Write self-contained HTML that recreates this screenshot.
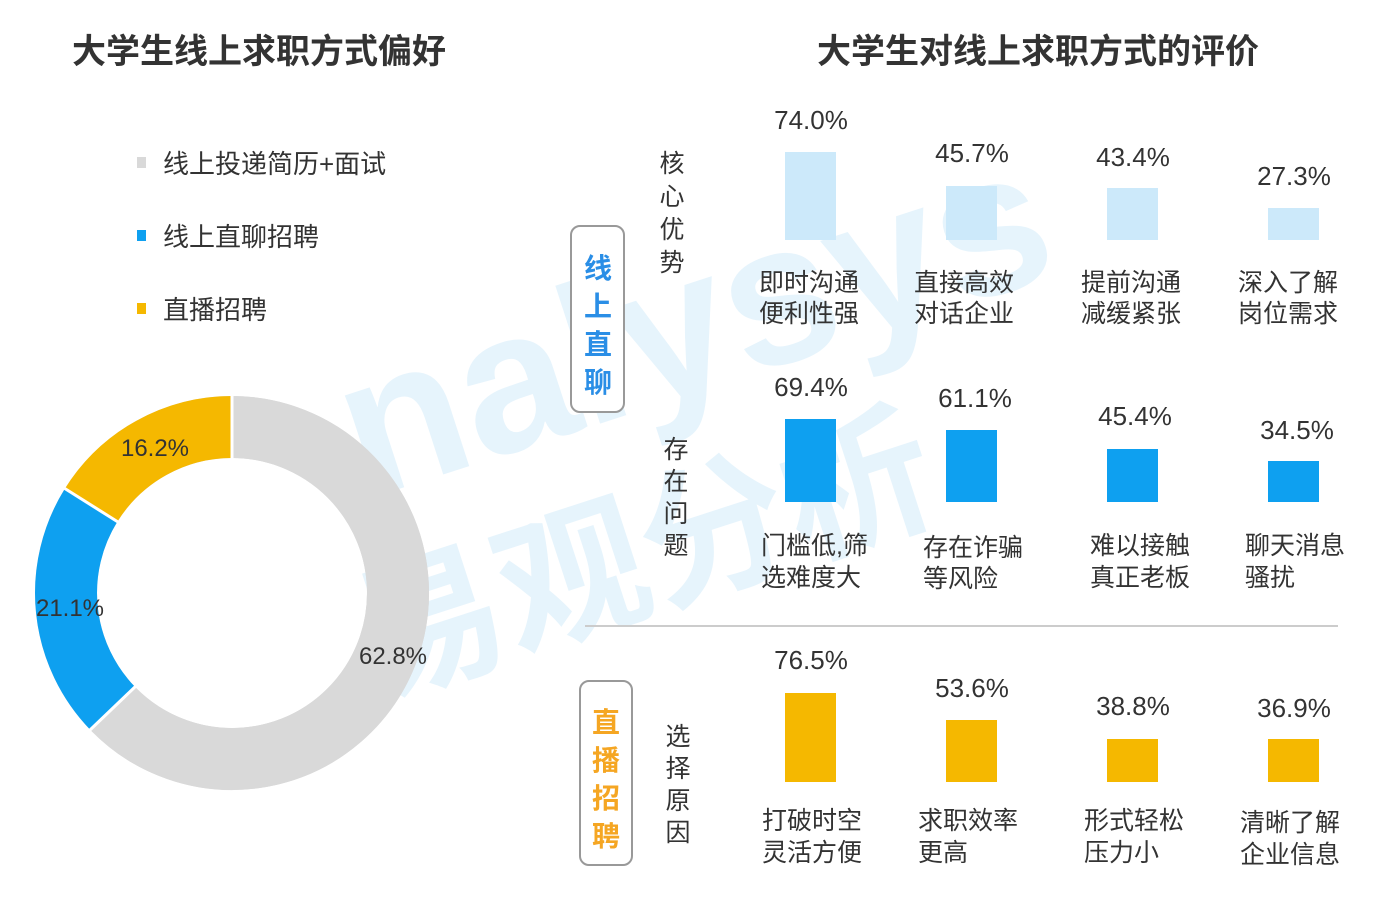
<!DOCTYPE html>
<html><head><meta charset="utf-8"><style>
body{margin:0;background:#fff}
svg{display:block;font-family:"Liberation Sans","Noto Sans CJK SC",sans-serif}
</style></head><body>
<svg width="1399" height="920" viewBox="0 0 1399 920" xmlns="http://www.w3.org/2000/svg">
<rect width="1399" height="920" fill="#fff"/>
<g opacity="0.11" fill="#2aa0e6" font-weight="bold">
<text x="330" y="420" font-size="200" transform="rotate(-18 600 350)">nalysys</text>
<text x="340" y="620" font-size="150" transform="rotate(-18 600 550)">易观分析</text>
</g>
<text x="72" y="63" font-size="34" font-weight="bold" fill="#333">大学生线上求职方式偏好</text>
<text x="1038" y="63" font-size="34" font-weight="bold" fill="#333" text-anchor="middle">大学生对线上求职方式的评价</text>
<rect x="137" y="157" width="9" height="11" fill="#d9d9d9"/>
<text x="163" y="173" font-size="26" fill="#333">线上投递简历+面试</text>
<rect x="137" y="230" width="9" height="11" fill="#0ea0f0"/>
<text x="163" y="246" font-size="26" fill="#333">线上直聊招聘</text>
<rect x="137" y="303" width="9" height="11" fill="#f5b800"/>
<text x="163" y="319" font-size="26" fill="#333">直播招聘</text>
<g fill="none" stroke-width="62">
<circle cx="232" cy="593" r="166" stroke="#d9d9d9"/>
<path d="M232 427 A166 166 0 1 1 112.8 708.5" stroke="#d9d9d9"/>
<path d="M112.8 708.5 A166 166 0 0 1 91.0 505.4" stroke="#0ea0f0"/>
<path d="M91.0 505.4 A166 166 0 0 1 232 427" stroke="#f5b800"/>
</g>
<g stroke="#fff" stroke-width="3">
<line x1="232" y1="394" x2="232" y2="460"/>
<line x1="90" y1="730" x2="137" y2="685"/>
<line x1="64" y1="488" x2="118" y2="522"/>
</g>
<text x="155" y="456" font-size="24" fill="#333" text-anchor="middle">16.2%</text>
<text x="70" y="616" font-size="24" fill="#333" text-anchor="middle">21.1%</text>
<text x="393" y="664" font-size="24" fill="#333" text-anchor="middle">62.8%</text>
<rect x="571" y="226" width="53" height="186" rx="9" fill="#fff" stroke="#999" stroke-width="2"/>
<g font-size="28" font-weight="bold" fill="#2a8ee6" text-anchor="middle">
<text x="598" y="278">线</text><text x="598" y="316">上</text><text x="598" y="354">直</text><text x="598" y="392">聊</text></g>
<rect x="580" y="681" width="52" height="184" rx="9" fill="#fff" stroke="#999" stroke-width="2"/>
<g font-size="28" font-weight="bold" fill="#f5a623" text-anchor="middle">
<text x="606" y="732">直</text><text x="606" y="770">播</text><text x="606" y="808">招</text><text x="606" y="846">聘</text></g>
<g font-size="25" fill="#333" text-anchor="middle">
<text x="672" y="172">核</text><text x="672" y="205">心</text><text x="672" y="238">优</text><text x="672" y="271">势</text>
<text x="676" y="458">存</text><text x="676" y="490">在</text><text x="676" y="522">问</text><text x="676" y="554">题</text>
<text x="678" y="745">选</text><text x="678" y="777">择</text><text x="678" y="809">原</text><text x="678" y="841">因</text>
</g>
<g fill="#cce9fa">
<rect x="785" y="152" width="51" height="88"/><rect x="946" y="186" width="51" height="54"/>
<rect x="1107" y="188" width="51" height="52"/><rect x="1268" y="208" width="51" height="32"/></g>
<g fill="#0ea0f0">
<rect x="785" y="419" width="51" height="83"/><rect x="946" y="430" width="51" height="72"/>
<rect x="1107" y="449" width="51" height="53"/><rect x="1268" y="461" width="51" height="41"/></g>
<g fill="#f5b800">
<rect x="785" y="693" width="51" height="89"/><rect x="946" y="720" width="51" height="62"/>
<rect x="1107" y="739" width="51" height="43"/><rect x="1268" y="739" width="51" height="43"/></g>
<line x1="585" y1="626" x2="1338" y2="626" stroke="#ccc" stroke-width="2"/>
<g font-size="26" fill="#333" text-anchor="middle">
<text x="811" y="129">74.0%</text><text x="972" y="162">45.7%</text><text x="1133" y="166">43.4%</text><text x="1294" y="185">27.3%</text>
<text x="811" y="396">69.4%</text><text x="975" y="407">61.1%</text><text x="1135" y="425">45.4%</text><text x="1297" y="439">34.5%</text>
<text x="811" y="669">76.5%</text><text x="972" y="697">53.6%</text><text x="1133" y="715">38.8%</text><text x="1294" y="717">36.9%</text>
</g>
<g font-size="25" fill="#333">
<text x="759" y="291">即时沟通</text><text x="759" y="322">便利性强</text>
<text x="914" y="291">直接高效</text><text x="914" y="322">对话企业</text>
<text x="1081" y="291">提前沟通</text><text x="1081" y="322">减缓紧张</text>
<text x="1238" y="291">深入了解</text><text x="1238" y="322">岗位需求</text>
<text x="761" y="554">门槛低,筛</text><text x="761" y="586">选难度大</text>
<text x="923" y="556">存在诈骗</text><text x="923" y="587">等风险</text>
<text x="1090" y="554">难以接触</text><text x="1090" y="586">真正老板</text>
<text x="1245" y="554">聊天消息</text><text x="1245" y="586">骚扰</text>
<text x="762" y="829">打破时空</text><text x="762" y="861">灵活方便</text>
<text x="918" y="829">求职效率</text><text x="918" y="861">更高</text>
<text x="1084" y="829">形式轻松</text><text x="1084" y="861">压力小</text>
<text x="1240" y="831">清晰了解</text><text x="1240" y="863">企业信息</text>
</g>
</svg>
</body></html>
